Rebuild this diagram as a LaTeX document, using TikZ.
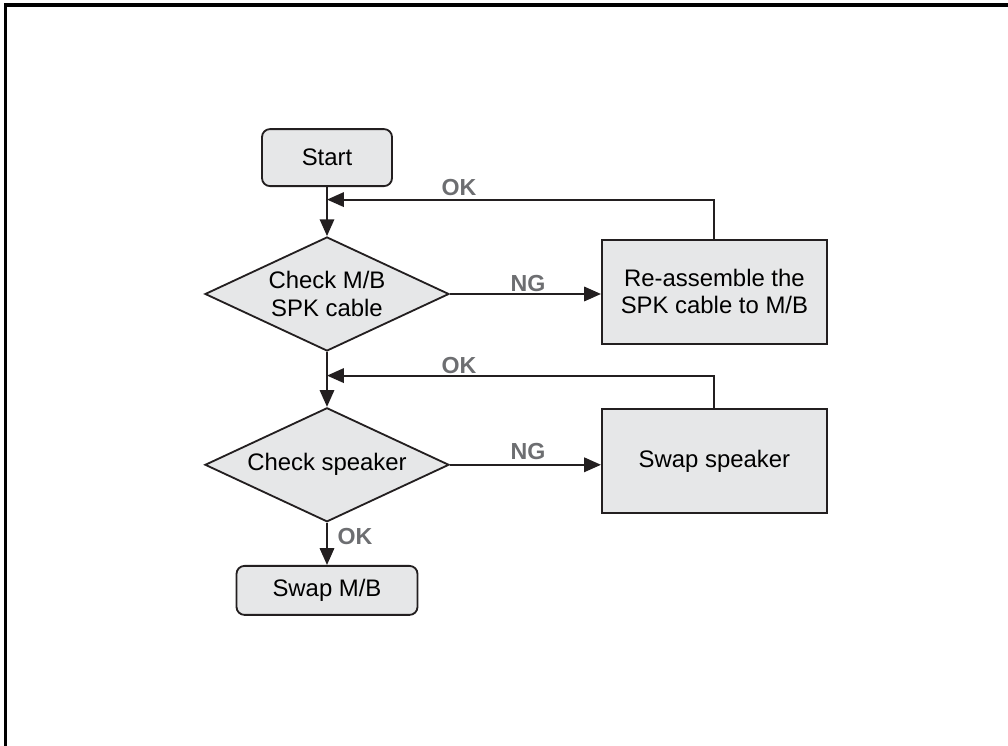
\documentclass[tikz,border=0pt]{standalone}
\usepackage{fontspec}
\setmainfont{Liberation Sans}
\usepackage{xcolor}
\usetikzlibrary{arrows.meta,shapes.geometric}
\definecolor{boxgray}{HTML}{E6E7E8}
\definecolor{linedark}{HTML}{231F20}
\definecolor{labelgray}{HTML}{6D6E71}

\begin{document}
\begin{tikzpicture}[
  term/.style={draw=linedark, line width=1.3pt, rounded corners=0.2cm, fill=boxgray, align=center, inner sep=0pt, font=\fontsize{17}{19.5}\selectfont},
  act/.style={draw=linedark, line width=1.3pt, fill=boxgray, align=center, inner sep=0pt, minimum width=5.625cm, minimum height=2.6cm, font=\fontsize{17}{19.5}\selectfont},
  dec/.style={diamond, draw=linedark, line width=1.3pt, fill=boxgray, align=center, aspect=2.14, inner sep=0pt, minimum width=6.1cm, minimum height=2.85cm, font=\fontsize{17}{19.5}\selectfont},
  arr/.style={-{Triangle[length=0.42cm, width=0.36cm]}, line width=1.4pt, draw=linedark},
  lbl/.style={text=labelgray, inner sep=0pt, font=\fontsize{16.5}{19}\selectfont\bfseries}
]
\useasboundingbox (0,0) rectangle (25.2,18.65);
\draw[line width=2.2pt] (0.13,0) -- (0.13,18.525) -- (25.2,18.525);
\node[term, minimum width=3.25cm, minimum height=1.425cm] (start) at (8.175,14.71) {Start};
\node[dec] (chkcable) at (8.175,11.3) {Check M/B\\SPK cable};
\node[act] (fixcable) at (17.86,11.36) {Re-assemble the\\SPK cable to M/B};
\node[dec] (chkspk) at (8.175,7.03) {Check speaker};
\node[act] (swapspk) at (17.86,7.12) {Swap speaker};
\node[term, minimum width=4.525cm, minimum height=1.225cm] (swapmb) at (8.175,3.89) {Swap M/B};
\coordinate (okone) at (8.175,13.66);
\coordinate (oktwo) at (8.175,9.26);
\node[lbl] (okcable) at (11.475,13.96) {OK};
\node[lbl] (ngcable) at (13.2,11.57) {NG};
\node[lbl] (okspk) at (11.475,9.51) {OK};
\node[lbl] (ngspk) at (13.2,7.37) {NG};
\node[lbl] (okmb) at (8.875,5.225) {OK};
\draw[arr] (start) -- (chkcable); \draw[arr] (chkcable) -- (chkspk); \draw[arr] (chkspk) -- (swapmb);
\draw[arr] (chkcable.east) -- (chkcable.east -| fixcable.west);
\draw[arr] (chkspk.east) -- (chkspk.east -| swapspk.west);
\draw[arr] (fixcable.north) |- (okone);
\draw[arr] (swapspk.north) |- (oktwo);
\end{tikzpicture}
\end{document}
